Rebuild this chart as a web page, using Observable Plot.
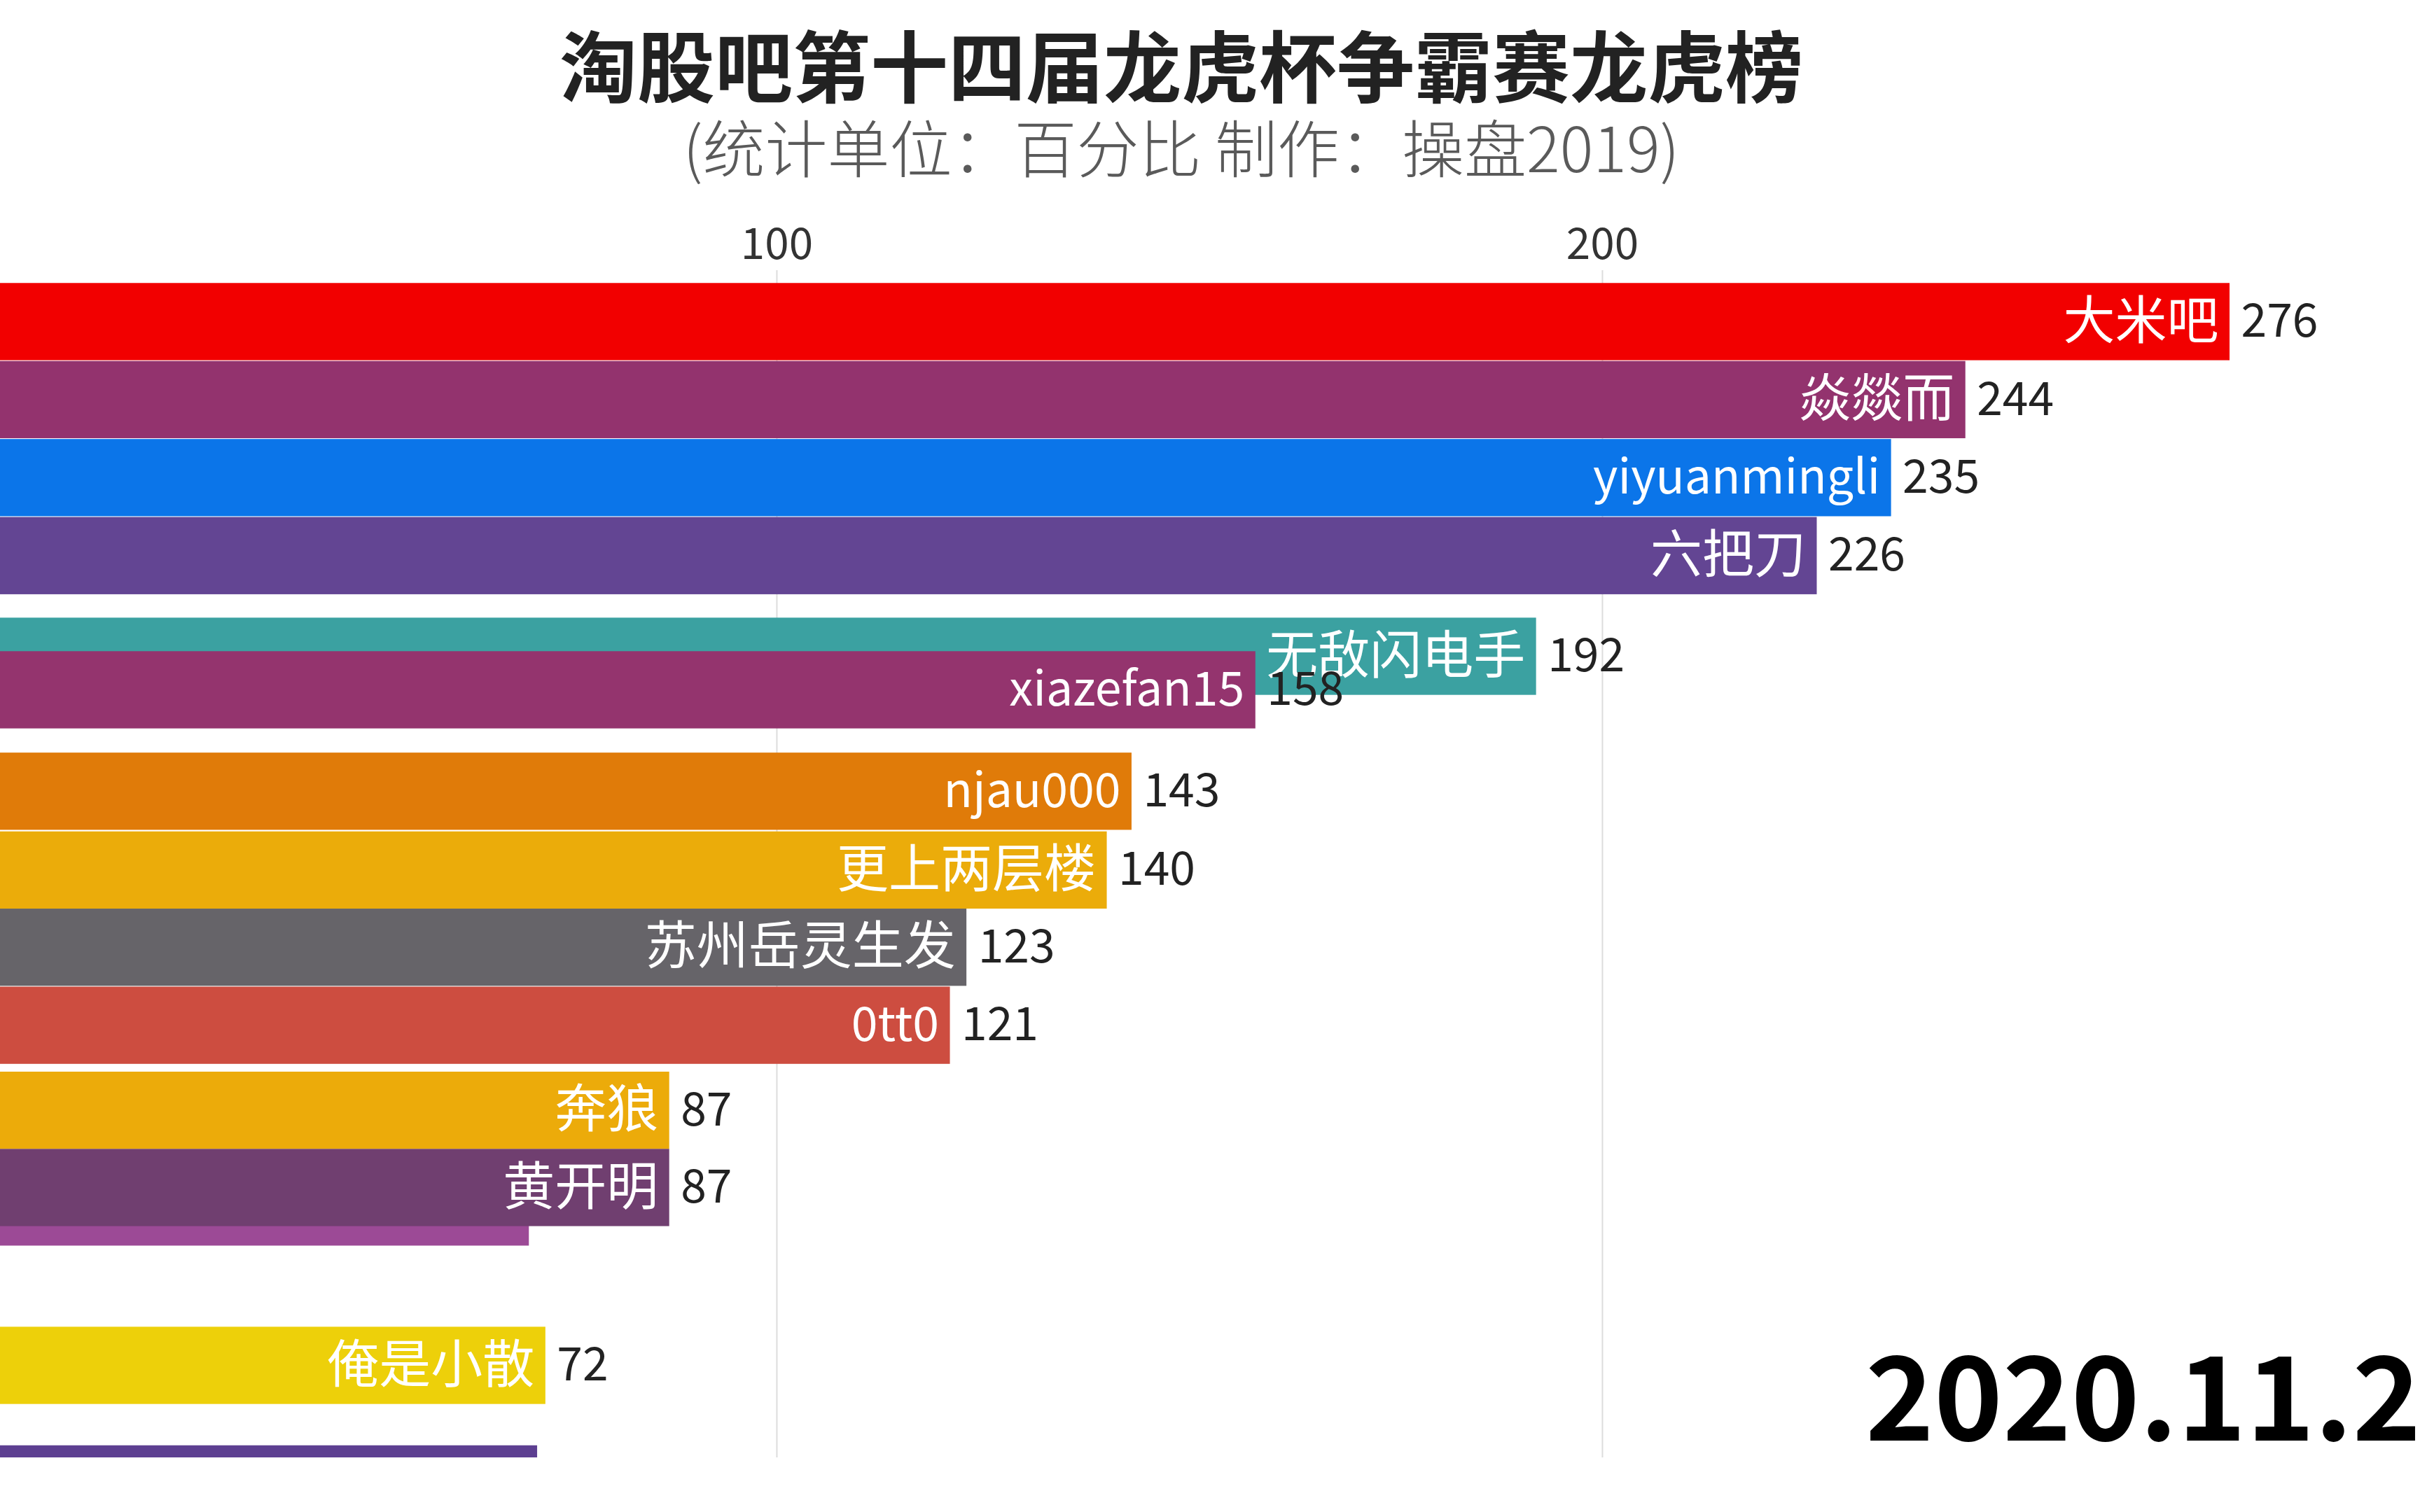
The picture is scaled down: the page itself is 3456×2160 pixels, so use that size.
<!DOCTYPE html>
<html>
<head>
<meta charset="utf-8">
<script src="https://cdn.jsdelivr.net/npm/d3@7"></script>
<script src="https://cdn.jsdelivr.net/npm/@observablehq/plot@0.6"></script>
<style>
  html, body { margin: 0; padding: 0; background: #fff; }
  body { width: 3456px; height: 2160px; overflow: hidden; position: relative; font-family: "Noto Sans CJK SC", "Noto Sans", sans-serif; }
  #chart { position: absolute; left: 0; top: 0; }
  .title { position: absolute; left: 0; width: 3374px; text-align: center; line-height: 1; white-space: nowrap; }
  #t1 { top: 34px; font-size: 111px; font-weight: 700; color: #222; }
  #t2 { top: 163px; font-size: 89px; font-weight: 300; color: #5a5a5a; }
  #date { position: absolute; left: 2664px; top: 1903px; font-size: 166px; font-weight: 700; color: #000; line-height: 1; white-space: nowrap; }
</style>
</head>
<body>
<div id="chart"></div>
<div class="title" id="t1"></div>
<div class="title" id="t2"></div>
<div id="date"></div>
<script>
// ---- data ----
const titleText = "淘股吧第十四届龙虎杯争霸赛龙虎榜";
const subtitleText = "(统计单位：百分比 制作：操盘2019)";
const dateText = "2020.11.27";

// listed in drawing order (later entries are painted over earlier ones)
const names  = ["大米吧", "焱燚而", "yiyuanmingli", "六把刀", "无敌闪电手", "xiazefan15", "njau000", "更上两层楼", "苏州岳灵生发", "0tt0", "奔狼", "", "黄开明", "俺是小散", ""];
const values = [276, 244, 235, 226, 192, 158, 143, 140, 123, 121, 87, 70, 87, 72, 71];
// interpolated rank at this frame of the race (1 = top)
const ranks  = [1.00, 2.00, 3.00, 4.00, 5.29, 5.72, 7.02, 8.03, 9.02, 10.02, 11.11, 12.35, 12.10, 14.38, 15.90];
const colors = ["#f20000", "#93336e", "#0b75e9", "#634593", "#3ba1a1", "#94346e", "#e07b09", "#ebac0a", "#666469", "#cd4d40", "#ecab0a", "#9c4a96", "#703f70", "#edd00a", "#5d3f91"];

const xTicks = [100, 200];

const rows = names.map((name, i) => ({name, value: values[i], rank: ranks[i], color: colors[i]}));

document.getElementById("t1").textContent = titleText;
document.getElementById("t2").textContent = subtitleText;
document.getElementById("date").textContent = dateText;

const font = "Noto Sans CJK SC";
const isLatin = s => /^[\x00-\x7f]*$/.test(s);

const barMarks = rows.flatMap(d => [
  Plot.rect([d], {x1: () => 0, x2: "value", y1: r => r.rank - 0.495, y2: r => r.rank + 0.495, fill: "color", clip: true}),
  Plot.text([d], {x: "value", y: "rank", text: "name", textAnchor: "end", dx: -16, fill: "white", fontSize: isLatin(d.name) ? 68 : 74, fontFamily: font, clip: true}),
  Plot.text([d], {x: "value", y: "rank", text: r => String(r.value), textAnchor: "start", dx: 16, fill: "#222", fontSize: 66, fontFamily: font, clip: true})
]);

const chart = Plot.plot({
  width: 3456,
  height: 2160,
  marginTop: 386,
  marginBottom: 78,
  marginLeft: 0,
  marginRight: 0,
  style: {background: "transparent", fontFamily: font, overflow: "hidden"},
  x: {domain: [5.94, 299.07], axis: null},
  y: {domain: [0.341, 15.56], reverse: true, axis: null},
  color: {type: "identity"},
  marks: [
    Plot.ruleX(xTicks, {stroke: "#dcdcdc", strokeWidth: 2}),
    Plot.text(xTicks, {x: d => d, frameAnchor: "top", lineAnchor: "middle", dy: -36, text: d => String(d), fontSize: 62, fill: "#333", fontFamily: font}),
    ...barMarks
  ]
});
document.getElementById("chart").appendChild(chart);
</script>
</body>
</html>
